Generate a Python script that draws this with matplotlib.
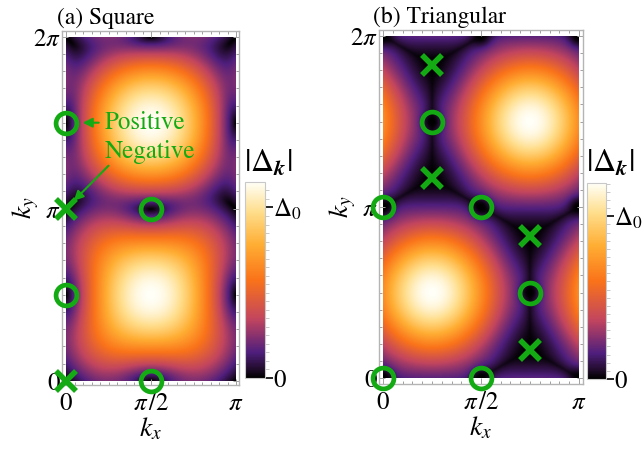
import numpy as np
import matplotlib
matplotlib.use("Agg")
import matplotlib.pyplot as plt
from matplotlib.colors import LinearSegmentedColormap
from matplotlib.ticker import MultipleLocator

plt.rcParams["font.family"] = "STIXGeneral"
plt.rcParams["mathtext.fontset"] = "stix"

PI = np.pi
GREEN = "#14aa14"

# gap zeros, (kx, ky) in units of pi
square_pos_kx = [0.0, 0.0, 0.5, 0.5]
square_pos_ky = [1.5, 0.5, 1.0, 0.0]
square_neg_kx = [0.0, 0.0]
square_neg_ky = [1.0, 0.0]

tri_pos_kx = [0.0, 0.5, 0.0, 0.5, 0.25, 0.75]
tri_pos_ky = [0.0, 0.0, 1.0, 1.0, 1.5, 0.5]
tri_neg_kx = [0.25, 0.25, 0.75, 0.75]
tri_neg_ky = [11 / 6, 7 / 6, 5 / 6, 1 / 6]

# where Delta_0 sits on each colour bar (fraction of the bar)
delta0_square = 0.87
delta0_tri = 0.83

# Mathematica-like "sunset" gradient
sunset = LinearSegmentedColormap.from_list("sunset", [
    (0.00, (0.00, 0.00, 0.00)),
    (0.05, (0.14, 0.05, 0.19)),
    (0.13, (0.31, 0.12, 0.49)),
    (0.30, (0.76, 0.27, 0.37)),
    (0.50, (0.98, 0.45, 0.10)),
    (0.68, (1.00, 0.68, 0.20)),
    (0.85, (1.00, 0.87, 0.55)),
    (1.00, (1.00, 1.00, 0.97)),
])


def gap_square(kx, ky, a=0.2, b=0.2):
    re = np.sin(kx) * np.sin(ky)
    im = a * np.cos(kx) * np.sin(2 * ky) + b * np.sin(2 * kx) * np.cos(ky)
    return np.hypot(re, im)


def gap_tri(kx, ky, k=0.15, w=0.15, floor=0.25, rho=0.18):
    # nearest-neighbour triangular-lattice form factor, max at the blob centres
    th = [2 * kx - ky, 2 * ky - PI, PI - 2 * kx - ky]
    s = sum(np.cos(t) for t in th)
    u = np.clip((s + 1.5) / 4.5, 0, 1)
    z = u + k * np.sqrt(u) * (1 - u) ** 2

    # darken along the hexagon boundaries (distance to the cell edge)
    X = (kx - PI / 4) * 2 / np.sqrt(3)
    Y = ky - PI / 2
    L = 2 * PI / np.sqrt(3)
    d1 = np.full(X.shape, np.inf)
    d2 = np.full(X.shape, np.inf)
    for m in range(-3, 4):
        for n in range(-3, 4):
            gx, gy = m * L + n * L / 2, n * PI
            d = (X - gx) ** 2 + (Y - gy) ** 2
            d2 = np.where(d < d1, d1, np.minimum(d2, d))
            d1 = np.minimum(d1, d)
    edge = (d2 - d1) / (2 * L)
    z = z * (floor + (1 - floor) * np.tanh(edge / w))

    # nodes on the hexagon edges (periodic images included)
    for px, py in zip(tri_pos_kx, tri_pos_ky):
        for sx in (-1, 0, 1):
            for sy in (-2, 0, 2):
                dx = (kx - (px + sx) * PI) * 2 / np.sqrt(3)
                dy = ky - (py + sy) * PI
                z = z * (1 - np.exp(-(dx ** 2 + dy ** 2) / rho ** 2))
    return z


W, H = 644, 451


def px_axes(fig, x0, y0, x1, y1):
    return fig.add_axes([x0 / W, 1 - y1 / H, (x1 - x0) / W, (y1 - y0) / H])


def panel(fig, frame, lims, cbar_box, gap, pos, neg, d0, title):
    ax = px_axes(fig, *frame)
    kx = np.linspace(0, PI, 400)
    ky = np.linspace(0, 2 * PI, 800)
    KX, KY = np.meshgrid(kx, ky)
    z = gap(KX, KY)
    z = z / z.max()
    im = ax.imshow(z, extent=[0, PI, 0, 2 * PI], origin="lower", cmap=sunset,
                   vmin=0, vmax=1, aspect="auto", interpolation="bilinear")
    ax.set_xlim(lims[0], lims[1])
    ax.set_ylim(lims[2], lims[3])

    for sp in ax.spines.values():
        sp.set_color("#b4b4b4")
        sp.set_linewidth(1.0)
    ax.set_xticks([0, PI / 2, PI])
    ax.set_xticklabels([r"$0$", r"$\pi\,/2$", r"$\pi$"])
    ax.set_yticks([0, PI, 2 * PI])
    ax.set_yticklabels([r"$0$", r"$\pi$", r"$2\pi$"])
    ax.xaxis.set_minor_locator(MultipleLocator(PI / 20))
    ax.yaxis.set_minor_locator(MultipleLocator(PI / 10))
    ax.tick_params(which="both", direction="in", color="#a0a0a0", width=0.7,
                   top=True, right=True, labelsize=18)
    ax.tick_params(which="major", length=4)
    ax.tick_params(which="minor", length=2.5)
    ax.tick_params(axis="x", pad=5)
    ax.tick_params(axis="y", pad=1)
    ax.set_xlabel(r"$k_x$", fontsize=20, labelpad=0)
    ax.set_ylabel(r"$k_y$", fontsize=20, labelpad=-6)
    ax.set_title(title, fontsize=17, loc="left", pad=5, x=-0.03)

    ax.plot(np.array(pos[0]) * PI, np.array(pos[1]) * PI, "o", ms=15,
            mfc="none", mec=GREEN, mew=3.4, clip_on=False, zorder=5)
    ax.plot(np.array(neg[0]) * PI, np.array(neg[1]) * PI, "x", ms=14,
            mec=GREEN, mew=4.0, clip_on=False, zorder=5)

    cax = px_axes(fig, *cbar_box)
    cb = fig.colorbar(im, cax=cax)
    cb.outline.set_edgecolor("#c8c8c8")
    cb.set_ticks([0, d0])
    cb.set_ticklabels([r"$0$", r"$\Delta_0$"])
    cb.ax.yaxis.set_minor_locator(MultipleLocator(d0 / 20))
    cb.ax.tick_params(which="major", length=6, width=1.2, color="black",
                      labelsize=18, pad=0)
    cb.ax.tick_params(which="minor", length=3, width=0.6, color="#c0c0c0")
    fig.text((cbar_box[0] + 23) / W, 1 - 164 / H, r"$|\Delta_{\boldsymbol{k}}|$",
             fontsize=23, ha="center", va="center")
    return ax


fig = plt.figure(figsize=(6.44, 4.51), dpi=100)

ax_a = panel(fig, (62, 31, 239, 385),
             (-4 / 170 * PI, PI + 3 / 170 * PI, -4.3 / 172 * PI, 2 * PI + 5.7 / 172 * PI),
             (245, 182, 265, 378), gap_square,
             (square_pos_kx, square_pos_ky), (square_neg_kx, square_neg_ky),
             delta0_square, "(a) Square")

ax_b = panel(fig, (379, 30, 583, 384),
             (-4 / 196 * PI, PI + 4 / 196 * PI, -6 / 171 * PI, 2 * PI + 6 / 171 * PI),
             (587, 183, 606, 379), gap_tri,
             (tri_pos_kx, tri_pos_ky), (tri_neg_kx, tri_neg_ky),
             delta0_tri, "(b) Triangular")

# sign labels on the square panel
ax_a.annotate("Positive", xy=(square_pos_kx[0] * PI, square_pos_ky[0] * PI),
              xytext=(0.225 * PI, square_pos_ky[0] * PI), color=GREEN, fontsize=18,
              va="center", ha="left",
              arrowprops=dict(arrowstyle="-|>", color=GREEN, lw=1.5,
                              mutation_scale=14, shrinkA=2, shrinkB=12))
ax_a.annotate("Negative", xy=(square_neg_kx[0] * PI, square_neg_ky[0] * PI),
              xytext=(0.225 * PI, 1.33 * PI), color=GREEN, fontsize=18,
              va="center", ha="left")
ax_a.annotate("", xy=(square_neg_kx[0] * PI, square_neg_ky[0] * PI),
              xytext=(0.25 * PI, 1.25 * PI),
              arrowprops=dict(arrowstyle="-|>", color=GREEN, lw=1.5,
                              mutation_scale=14, shrinkA=0, shrinkB=8))

fig.savefig("out.png", dpi=100)
